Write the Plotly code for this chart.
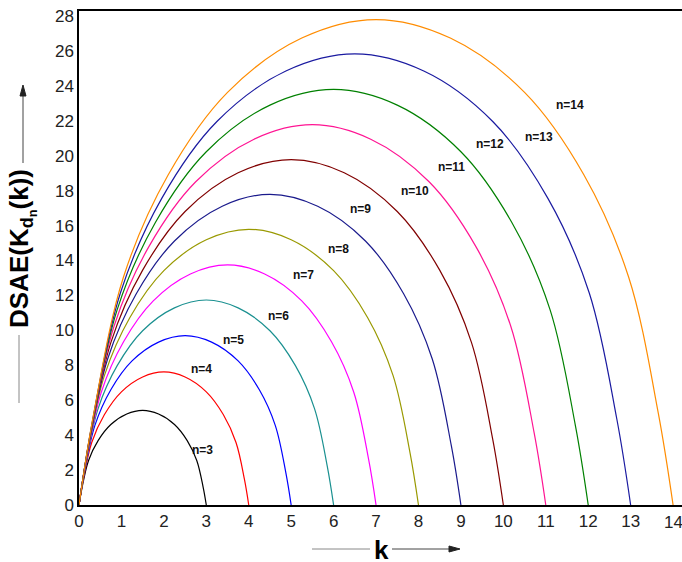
import plotly.graph_objects as go

# ---- data ----
k3 = [0, 0.075, 0.225, 0.45, 0.75, 1.125, 1.5, 1.875, 2.25, 2.55, 2.775, 2.925, 3]
y3 = [0, 1.03, 2.55, 3.69, 4.61, 5.21, 5.42, 5.21, 4.61, 3.69, 2.55, 1.03, 0]
k4 = [0, 0.1, 0.3, 0.6, 1, 1.5, 2, 2.5, 3, 3.4, 3.7, 3.9, 4]
y4 = [0, 1.45, 3.58, 5.18, 6.48, 7.33, 7.62, 7.33, 6.48, 5.18, 3.58, 1.45, 0]
k5 = [0, 0.125, 0.375, 0.75, 1.25, 1.875, 2.5, 3.125, 3.75, 4.25, 4.625, 4.875, 5]
y5 = [0, 1.84, 4.56, 6.60, 8.25, 9.33, 9.70, 9.33, 8.25, 6.60, 4.56, 1.84, 0]
k6 = [0, 0.15, 0.45, 0.9, 1.5, 2.25, 3, 3.75, 4.5, 5.1, 5.55, 5.85, 6]
y6 = [0, 2.23, 5.52, 7.98, 9.98, 11.29, 11.74, 11.29, 9.98, 7.98, 5.52, 2.23, 0]
k7 = [0, 0.175, 0.525, 1.05, 1.75, 2.625, 3.5, 4.375, 5.25, 5.95, 6.475, 6.825, 7]
y7 = [0, 2.61, 6.46, 9.35, 11.69, 13.23, 13.75, 13.23, 11.69, 9.35, 6.46, 2.61, 0]
k8 = [0, 0.2, 0.6, 1.2, 2, 3, 4, 5, 6, 6.8, 7.4, 7.8, 8]
y8 = [0, 3.0, 7.42, 10.74, 13.42, 15.19, 15.79, 15.19, 13.42, 10.74, 7.42, 3.0, 0]
k9 = [0, 0.225, 0.675, 1.35, 2.25, 3.375, 4.5, 5.625, 6.75, 7.65, 8.325, 8.775, 9]
y9 = [0, 3.38, 8.36, 12.10, 15.12, 17.11, 17.79, 17.11, 15.12, 12.10, 8.36, 3.38, 0]
k10 = [0, 0.25, 0.75, 1.5, 2.5, 3.75, 5, 6.25, 7.5, 8.5, 9.25, 9.75, 10]
y10 = [0, 3.76, 9.30, 13.45, 16.81, 19.03, 19.78, 19.03, 16.81, 13.45, 9.30, 3.76, 0]
k11 = [0, 0.275, 0.825, 1.65, 2.75, 4.125, 5.5, 6.875, 8.25, 9.35, 10.175, 10.725, 11]
y11 = [0, 4.14, 10.24, 14.81, 18.51, 20.95, 21.78, 20.95, 18.51, 14.81, 10.24, 4.14, 0]
k12 = [0, 0.3, 0.9, 1.8, 3, 4.5, 6, 7.5, 9, 10.2, 11.1, 11.7, 12]
y12 = [0, 4.52, 11.19, 16.18, 20.23, 22.90, 23.80, 22.90, 20.23, 16.18, 11.19, 4.52, 0]
k13 = [0, 0.325, 0.975, 1.95, 3.25, 4.875, 6.5, 8.125, 9.75, 11.05, 12.025, 12.675, 13]
y13 = [0, 4.91, 12.14, 17.56, 21.96, 24.85, 25.83, 24.85, 21.96, 17.56, 12.14, 4.91, 0]
k14 = [0, 0.35, 1.05, 2.1, 3.5, 5.25, 7, 8.75, 10.5, 11.9, 12.95, 13.65, 14]
y14 = [0, 5.28, 13.07, 18.90, 23.63, 26.74, 27.80, 26.74, 23.63, 18.90, 13.07, 5.28, 0]

series_names = ["n=3", "n=4", "n=5", "n=6", "n=7", "n=8", "n=9", "n=10", "n=11", "n=12", "n=13", "n=14"]
series_k = [k3, k4, k5, k6, k7, k8, k9, k10, k11, k12, k13, k14]
series_y = [y3, y4, y5, y6, y7, y8, y9, y10, y11, y12, y13, y14]

label_k = [2.9, 2.89, 3.65, 4.7, 5.29, 6.11, 6.64, 7.92, 8.77, 9.69, 10.85, 11.56]
label_y = [3.15, 7.77, 9.45, 10.82, 13.15, 14.64, 16.93, 18.0, 19.38, 20.68, 21.1, 22.91]

x_ticks = list(range(0, 14))
last_x_tick = 14
y_ticks = list(range(0, 29, 2))

# ---- styling ----
colors = ["#000000", "#ff0000", "#0000ff", "#1a9090", "#ff00ff", "#999900",
          "#1a1a8c", "#800000", "#ff1493", "#008000", "#1a1aa0", "#ff8c00"]
FONT = "Liberation Sans, Arial"

fig = go.Figure()
for name, ks, ys, c in zip(series_names, series_k, series_y, colors):
    fig.add_trace(go.Scatter(x=ks, y=ys, mode="lines", name=name,
                             line=dict(color=c, width=1.2, shape="spline", smoothing=1.0),
                             showlegend=False, hoverinfo="skip"))

for name, lk, ly in zip(series_names, label_k, label_y):
    fig.add_annotation(x=lk, y=ly, text="<b>" + name + "</b>", showarrow=False,
                       xanchor="center", yanchor="middle",
                       font=dict(family=FONT, size=12, color="#111111"))

W, H = 682, 562
L, R, T, B = 79, 0, 11, 57
pw, ph = W - L - R, H - T - B

def px(xp):
    return (xp - L) / pw

def py(yp):
    return (H - B - yp) / ph

def line_shape(x0, y0, x1, y1, color):
    fig.add_shape(type="line", xref="paper", yref="paper", x0=px(x0), x1=px(x1),
                  y0=py(y0), y1=py(y1), line=dict(color=color, width=1))

def tri_shape(pts, color):
    path = "M " + " L ".join(f"{px(a):.5f},{py(b):.5f}" for a, b in pts) + " Z"
    fig.add_shape(type="path", xref="paper", yref="paper", path=path,
                  fillcolor=color, line=dict(color=color, width=1))

# last x tick label (sits on the right edge of the picture)
fig.add_annotation(x=last_x_tick, xref="x", yref="paper", y=py(522),
                   text=str(last_x_tick), showarrow=False,
                   xanchor="center", yanchor="middle",
                   font=dict(family=FONT, size=17, color="#222222"))

# y axis title with arrow lines
fig.add_annotation(xref="paper", yref="paper", x=px(22), y=py(249), textangle=-90,
                   xanchor="center", yanchor="middle",
                   text="<b>DSAE(K<sub>d<sub>n</sub></sub>(k))</b>", showarrow=False,
                   font=dict(family=FONT, size=26, color="#000000"))
line_shape(19, 335, 19, 403, "#888888")
line_shape(23, 95, 23, 163, "#444444")
tri_shape([(23, 85), (20, 96), (26, 96)], "#222222")

# x axis title with arrow lines
fig.add_annotation(xref="paper", yref="paper", x=px(381), y=py(550),
                   xanchor="center", yanchor="middle",
                   text="<b>k</b>", showarrow=False,
                   font=dict(family=FONT, size=26, color="#000000"))
line_shape(312, 549, 370, 549, "#888888")
line_shape(392, 549, 450, 549, "#444444")
tri_shape([(460, 549), (449, 546), (449, 552)], "#222222")

fig.update_layout(
    width=W, height=H,
    margin=dict(l=L, r=R, t=T, b=B),
    paper_bgcolor="white", plot_bgcolor="white",
    font=dict(family=FONT, size=17, color="#222222"),
    xaxis=dict(range=[0, 14.21], tickvals=x_ticks, showgrid=False, zeroline=False,
               showline=True, linecolor="black", linewidth=1.5, mirror=True,
               ticks="", tickfont=dict(size=17)),
    yaxis=dict(range=[0, 28.29], tickvals=y_ticks, showgrid=False, zeroline=False,
               showline=True, linecolor="black", linewidth=1.5,
               ticks="", tickfont=dict(size=17)),
)

fig.write_html("out.html", config={"displayModeBar": False},
               post_script="document.body.style.margin='0';document.body.style.padding='0';")
